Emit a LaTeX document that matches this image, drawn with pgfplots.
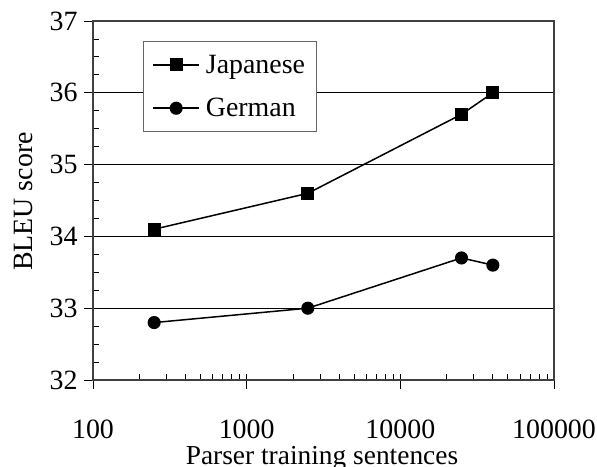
\documentclass[border=0pt]{standalone}
\usepackage{fontspec}
\setmainfont{Liberation Serif}
\usepackage{pgfplots}
\pgfplotsset{compat=1.18}
\begin{document}
\begin{tikzpicture}
\begin{axis}[
  name=ax,
  scale only axis,
  width=461bp, height=359bp,
  xmode=log,
  xmin=100, xmax=100000,
  ymin=32, ymax=37,
  xtick={100,1000,10000,100000},
  xticklabels={100,1000,10000,100000},
  ytick={32,33,34,35,36,37},
  minor y tick num=3,
  xtick pos=left, ytick pos=left,
  tick align=outside,
  major tick length=9bp,
  minor tick length=6bp,
  minor x tick style={yshift=6bp},
  minor y tick style={xshift=6bp},
  ymajorgrids,
  major grid style={black, line width=0.6bp},
  axis line style={black!75, line width=1.2bp},
  tick style={black, line width=0.8bp},
  /pgf/number format/assume math mode=true,
  font=\fontsize{28}{32}\selectfont,
  xticklabel style={anchor=base, yshift=-49bp},
  yticklabel style={xshift=-3bp},
  xlabel={Parser training sentences},
  ylabel={BLEU score},
  xlabel style={at={(axis description cs:0.4967,-0.2345)}, anchor=base, font=\fontsize{27.5}{32}\selectfont},
  ylabel style={at={(axis description cs:-0.1312,0.497)}, anchor=base, font=\fontsize{28}{32}\selectfont},
  legend style={at={(rel axis cs:0.1085,0.944)}, anchor=north west,
    draw=black!60, line width=0.8bp, fill=white,
    font=\fontsize{28}{32}\selectfont,
    inner xsep=9bp, inner ysep=11.5bp, row sep=19.5bp},
  legend cell align=left,
  legend image code/.code={\draw[mark repeat=2,mark phase=2] plot coordinates {(0bp,0bp) (23bp,0bp) (46bp,0bp)};\path (50bp,0bp);},
]
\addplot[black, line width=1.5bp, mark=square*, mark size=5.8bp, mark options={solid}]
  coordinates {(250,34.1) (2500,34.6) (25000,35.7) (40000,36.0)};
\addlegendentry{Japanese}
\addplot[black, line width=1.5bp, mark=*, mark size=5.8bp, mark options={solid}]
  coordinates {(250,32.8) (2500,33.0) (25000,33.7) (40000,33.6)};
\addlegendentry{German}
\end{axis}
\pgfresetboundingbox
\path ([shift={(-93bp,-86bp)}]ax.south west) rectangle ([shift={(43bp,21bp)}]ax.north east);
\end{tikzpicture}
\end{document}
